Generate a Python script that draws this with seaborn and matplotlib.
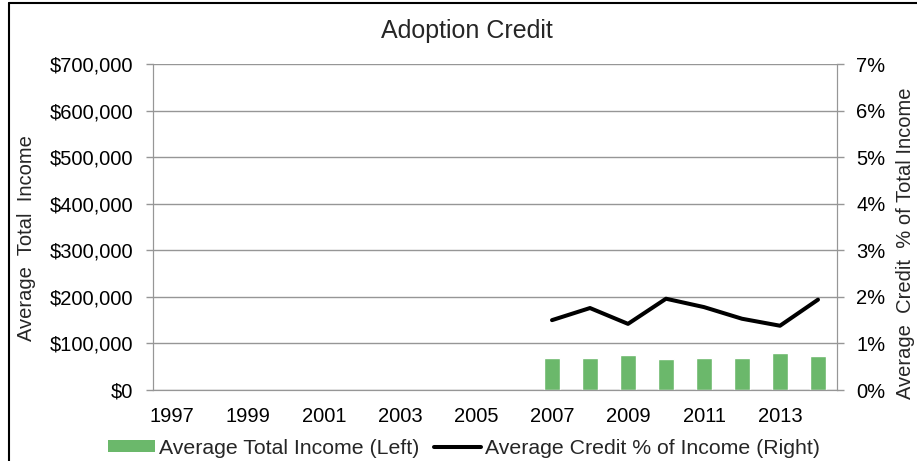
import numpy as np
import pandas as pd
import matplotlib
matplotlib.use("Agg")
import matplotlib.pyplot as plt
import seaborn as sns
from matplotlib.ticker import FuncFormatter, PercentFormatter, FixedLocator
from matplotlib.lines import Line2D
from matplotlib.patches import Patch

# data
years = list(range(1997, 2015))
data_years = [2007, 2008, 2009, 2010, 2011, 2012, 2013, 2014]
avg_income = [69000, 69000, 75500, 65500, 69000, 69000, 79000, 73000]
credit_pct = [0.0150, 0.0176, 0.0142, 0.0196, 0.0178, 0.0153, 0.0138, 0.0194]

sns.set_style("white")
plt.rcParams['font.family'] = ['Liberation Sans', 'DejaVu Sans']

grid_col = '#969696'
bar_col = '#6bb86b'
fs = 14.5

df = pd.DataFrame({'year': [str(y) for y in data_years], 'income': avg_income})
order = [str(y) for y in years]

fig = plt.figure(figsize=(9.17, 4.61), dpi=100)
ax = fig.add_axes([153 / 917, 1 - 390 / 461, 684 / 917, 326 / 461])

sns.barplot(data=df, x='year', y='income', order=order, color=bar_col,
            width=0.41, saturation=1, ax=ax)
ax.set_xlim(-0.5, len(years) - 0.5)
ax.set_ylim(0, 700000)
ax.yaxis.set_major_locator(FixedLocator(np.arange(0, 700001, 100000)))
ax.yaxis.set_major_formatter(FuncFormatter(lambda v, p: f"${v:,.0f}"))
ax.yaxis.grid(True, color=grid_col, lw=1)
ax.set_axisbelow(True)

ax.set_xticks(range(len(years)))
ax.set_xticklabels([str(y) if (y - 1997) % 2 == 0 else '' for y in years])
ax.set_xticks(np.arange(-0.5, len(years)), minor=True)
ax.tick_params(axis='x', which='major', length=0, pad=12, labelsize=fs, labelcolor='black')
ax.tick_params(axis='x', which='minor', length=5, width=1, color=grid_col, direction='out')
ax.tick_params(axis='y', length=5, width=1, color=grid_col, direction='out', pad=9,
               labelsize=fs, labelcolor='black', left=True)
ax.set_xlabel('')
ax.set_ylabel('Average  Total  Income', fontsize=fs)
ax.yaxis.set_label_coords(-0.171, 0.465)

for s in ['left', 'right', 'bottom']:
    ax.spines[s].set_color(grid_col)
ax.spines['top'].set_visible(False)

ax2 = ax.twinx()
pos = [years.index(y) for y in data_years]
sns.lineplot(x=pos, y=credit_pct, color='black', lw=2.9, ax=ax2)
ax2.set_ylim(0, 0.07)
ax2.yaxis.set_major_locator(FixedLocator(np.arange(0, 0.0701, 0.01)))
ax2.yaxis.set_major_formatter(PercentFormatter(1, decimals=0))
ax2.tick_params(axis='y', length=5, width=1, color=grid_col, direction='out', pad=9,
                labelsize=fs, labelcolor='black', right=True)
ax2.set_ylabel('Average  Credit  % of Total Income', fontsize=fs, rotation=90)
ax2.yaxis.set_label_coords(1.086, 0.45)
for s in ['left', 'right', 'bottom']:
    ax2.spines[s].set_color(grid_col)
ax2.spines['top'].set_visible(False)

fig.text(467 / 917, 1 - 31 / 461, 'Adoption Credit', ha='center', va='center', fontsize=18)

handles = [Patch(facecolor=bar_col, edgecolor='none'),
           Line2D([0], [0], color='black', lw=2.9)]
fig.legend(handles, ['Average Total Income (Left)', 'Average Credit % of Income (Right)'],
           loc='center', bbox_to_anchor=(464 / 917, 1 - 448 / 461), ncol=2, frameon=False,
           fontsize=15.3, handlelength=2.2, handleheight=0.5, handletextpad=0.2,
           columnspacing=0.7, borderpad=0, borderaxespad=0)

# chart area border (left and top edges visible)
fig.add_artist(Line2D([8.5 / 917, 8.5 / 917], [0, 1 - 3.5 / 461], color='black', lw=1.5))
fig.add_artist(Line2D([8.5 / 917, 1], [1 - 3.5 / 461, 1 - 3.5 / 461], color='black', lw=1.5))

fig.savefig('out.png', dpi=100)
